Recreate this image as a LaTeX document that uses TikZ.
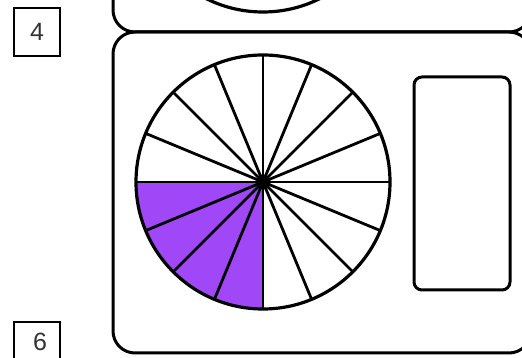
\documentclass[tikz,border=0pt]{standalone}
\usepackage{fontspec}
\setmainfont{Liberation Sans}
\usetikzlibrary{calc}
\definecolor{piefill}{RGB}{160,72,248}
\definecolor{txtgray}{RGB}{50,50,50}
\begin{document}
\begin{tikzpicture}[x=1pt,y=1pt,
  lbl/.style={draw=black,line width=2pt,minimum width=46pt,minimum height=48pt,inner sep=0pt,
    font=\fontsize{25}{25}\selectfont,text=txtgray},
  frame/.style={draw=black,line width=3pt,rounded corners=22pt},
  ansbox/.style={draw=black,line width=3pt,rounded corners=8pt},
  spoke/.style={draw=black,line width=2.8pt}]
\useasboundingbox (0,0) rectangle (522,358);
\clip (0,0) rectangle (522,358);
% upper (cut) panel
\draw[frame] (113,326) rectangle (531,620);
\draw[line width=3.2pt] (263,473) circle (127);
% lower panel
\draw[frame] (113,5) rectangle (531,326);
% pie
\coordinate (c) at (263,176);
\fill[piefill] (c) -- (136,176) arc (180:270:127) -- cycle;
\foreach \a in {0,22.5,...,157.5}{
  \draw[spoke] ($(c)+(\a:127)$) -- ($(c)+(\a+180:127)$);
}
\draw[line width=3.2pt] (c) circle (127);
\fill[black] (c) circle (7.5);
% answer box
\draw[ansbox] (414,68) rectangle (510,281);
% labels
\node[lbl] (n4) at (37,326) {4};
\node[lbl] (n6) at (37,12) {};
\node[font=\fontsize{25}{25}\selectfont,text=txtgray,inner sep=0pt] (t6) at (40,16) {6};
\end{tikzpicture}
\end{document}
